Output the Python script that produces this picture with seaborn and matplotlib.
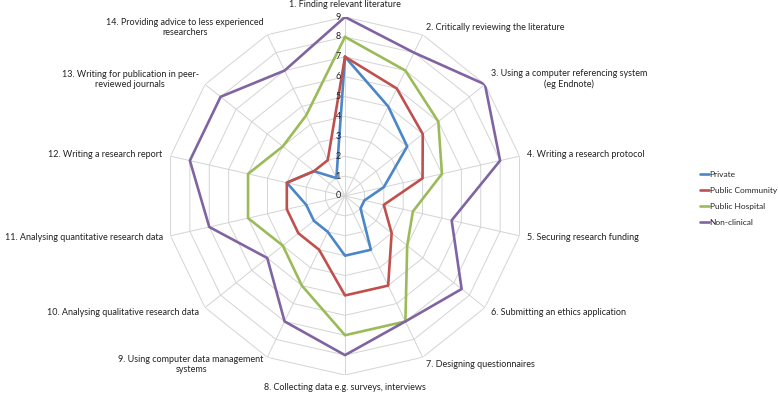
"""Radar chart of research skill ratings by workplace sector."""
import numpy as np
import pandas as pd
import matplotlib
matplotlib.use("Agg")
import matplotlib.pyplot as plt
import seaborn as sns

sns.set_theme(style="white")
plt.rcParams["font.family"] = ["Lato", "DejaVu Sans"]

CATEGORIES = [
    "1. Finding relevant literature",
    "2. Critically reviewing the literature",
    "3. Using a computer referencing system\n(eg Endnote)",
    "4. Writing a research protocol",
    "5. Securing research funding",
    "6. Submitting an ethics application",
    "7. Designing questionnaires",
    "8. Collecting data e.g. surveys, interviews",
    "9. Using computer data management\nsystems",
    "10. Analysing qualitative research data",
    "11. Analysing quantitative research data",
    "12. Writing a research report",
    "13. Writing for publication in peer-\nreviewed journals",
    "14. Providing advice to less experienced\nresearchers",
]
SERIES = ["Private", "Public Community", "Public Hospital", "Non-clinical"]
private = [7, 5, 4, 2, 1, 1, 3, 3, 2, 2, 2, 3, 2, 1]
public_community = [7, 6, 5, 4, 2, 3, 5, 5, 3, 3, 3, 3, 2, 2]
public_hospital = [8, 7, 6, 5, 3.5, 4, 7, 7, 5, 4, 5, 5, 4, 4.5]
non_clinical = [9, 8, 9, 8, 5.5, 7.5, 7, 8, 7, 5, 7, 8, 8, 7]
RING_TICKS = list(range(0, 10))

COLORS = {"Private": "#4A86C8", "Public Community": "#C0504D",
          "Public Hospital": "#9BBB59", "Non-clinical": "#8064A2"}
GRID = "#d4d4d4"

n = len(CATEGORIES)
angles = np.linspace(0, 2 * np.pi, n, endpoint=False)
closed = np.append(angles, 2 * np.pi)

rows = []
for name, vals in zip(SERIES, [private, public_community, public_hospital, non_clinical]):
    for a, v in zip(closed, vals + vals[:1]):
        rows.append({"theta": a, "value": v, "sector": name})
df = pd.DataFrame(rows)

fig = plt.figure(figsize=(7.78, 3.96), dpi=100)
ax = fig.add_axes([166 / 778, 21 / 396, 358 / 778, 358 / 396], projection="polar")
ax.set_theta_offset(np.pi / 2)
ax.set_theta_direction(-1)
ax.set_ylim(0, 9)
ax.grid(False)
ax.set_xticks([])
ax.set_yticks([])
ax.spines["polar"].set_visible(False)

# polygon grid (Excel style)
for r in RING_TICKS[1:]:
    ax.plot(closed, [r] * len(closed), color=GRID, lw=0.7, zorder=0)
for a in angles:
    ax.plot([a, a], [0, 9], color=GRID, lw=0.7, zorder=0)

sns.lineplot(data=df, x="theta", y="value", hue="sector", hue_order=SERIES,
             palette=COLORS, sort=False, estimator=None, lw=1.9, ax=ax)

for r in RING_TICKS:
    ax.annotate(str(r), xy=(0, r), xytext=(-4, 0), textcoords="offset pixels",
                ha="right", va="center", fontsize=6.5, color="#222222")

for a, lab in zip(angles, CATEGORIES):
    s, c = np.sin(a), np.cos(a)
    ha = "left" if s > 0.01 else ("right" if s < -0.01 else "center")
    va = "center"
    if abs(s) < 0.01:
        va = "bottom" if c > 0 else "top"
    ax.annotate(lab, xy=(a, 9), xytext=(8 * s, 8 * c), textcoords="offset pixels",
                ha=ha, va=va, multialignment="center", fontsize=6.5,
                color="#222222", annotation_clip=False)

ax.set_xlabel("")
ax.set_ylabel("")
sns.move_legend(ax, "upper left", bbox_to_anchor=(697 / 778, 1 - 168 / 396),
                bbox_transform=fig.transFigure, frameon=False, title=None,
                fontsize=6, handlelength=1.0, handletextpad=0.1,
                labelspacing=1.05, borderaxespad=0)

fig.savefig("out.png", dpi=100)
